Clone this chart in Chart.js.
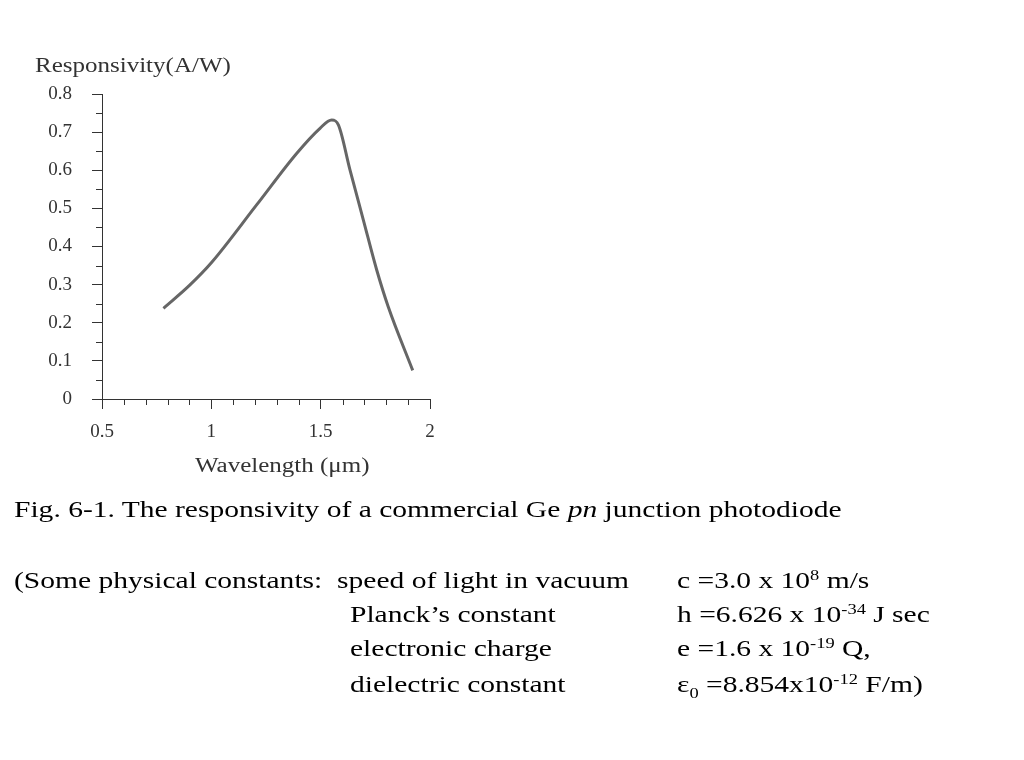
<!DOCTYPE html>
<html><head><meta charset="utf-8">
<script src="https://cdn.jsdelivr.net/npm/chart.js@4"></script>
<style>
body{margin:0;background:#fff;width:1024px;height:760px;position:relative;overflow:hidden;font-family:"Liberation Serif","Times New Roman",serif;}
.t{position:absolute;white-space:nowrap;font-size:24px;color:#000;line-height:26px;transform:scaleX(1.23);transform-origin:left center;}
.a{position:absolute;white-space:nowrap;font-size:20px;color:#333;line-height:22px;transform:scaleX(1.25);transform-origin:left center;}
sup{font-size:15px;vertical-align:top;position:relative;top:-5px;}
sub{font-size:15px;}
</style></head><body>
<canvas id="c" width="1024" height="760" style="position:absolute;left:0;top:0"></canvas>
<div class="a" style="left:35px;top:54px">Responsivity(A/W)</div>
<div class="a" style="left:195px;top:454px">Wavelength (μm)</div>
<div class="t" style="left:14px;top:496px">Fig. 6-1. The responsivity of a commercial Ge <i>pn</i> junction photodiode</div>
<div class="t" style="left:14px;top:567px">(Some physical constants:&nbsp; speed of light in vacuum</div>
<div class="t" style="left:350px;top:601px">Planck’s constant</div>
<div class="t" style="left:350px;top:635px">electronic charge</div>
<div class="t" style="left:350px;top:671px">dielectric constant</div>
<div class="t" style="left:677px;top:567px">c =3.0 x 10<sup>8</sup> m/s</div>
<div class="t" style="left:677px;top:601px">h =6.626 x 10<sup>-34</sup> J sec</div>
<div class="t" style="left:677px;top:635px">e =1.6 x 10<sup>-19</sup> Q,</div>
<div class="t" style="left:677px;top:671px">ε<sub>0</sub> =8.854x10<sup>-12</sup> F/m)</div>
<script>
const wavelength=[0.781,0.90,1.001,1.207,1.390,1.497,1.550,1.581,1.634,1.695,1.756,1.809,1.921];
const responsivity=[0.238,0.298,0.358,0.509,0.644,0.710,0.732,0.719,0.601,0.470,0.339,0.242,0.075];
const xTicks=[0.5,1,1.5,2];
const yTicks=[0,0.1,0.2,0.3,0.4,0.5,0.6,0.7,0.8];
const axisColor='#333';
const minorTicks={id:'minor',afterDraw(ch){
  const c=ch.ctx,x=ch.scales.x,y=ch.scales.y;
  c.save();c.strokeStyle=axisColor;c.lineWidth=1;c.beginPath();
  for(let i=6;i<=19;i++){if(i%5===0)continue;const px=Math.round(x.getPixelForValue(i/10))+0.5;c.moveTo(px,y.bottom);c.lineTo(px,y.bottom+6);}
  for(let i=1;i<16;i+=2){const py=Math.round(y.getPixelForValue(i/20))+0.5;c.moveTo(x.left,py);c.lineTo(x.left-6,py);}
  c.stroke();c.restore();}};
new Chart(document.getElementById('c'),{
  type:'line',
  data:{datasets:[{data:wavelength.map((w,i)=>({x:w,y:responsivity[i]})),borderColor:'#666',borderWidth:3,pointRadius:0,cubicInterpolationMode:'monotone',fill:false}]},
  options:{responsive:false,animation:false,
    layout:{padding:{left:42,right:594,top:94,bottom:321}},
    plugins:{legend:{display:false},tooltip:{enabled:false}},
    scales:{
      x:{type:'linear',min:0.5,max:2,afterFit:s=>{s.height=40;},
        afterBuildTicks:s=>{s.ticks=xTicks.map(v=>({value:v}));},
        grid:{drawOnChartArea:false,color:axisColor,tickLength:10},border:{color:axisColor},
        ticks:{color:'#333',font:{family:'Liberation Serif',size:19},padding:12,callback:v=>String(v)}},
      y:{min:0,max:0.8,afterFit:s=>{s.width=60;},
        afterBuildTicks:s=>{s.ticks=yTicks.map(v=>({value:v}));},
        grid:{drawOnChartArea:false,color:axisColor,tickLength:10},border:{color:axisColor},
        ticks:{color:'#333',font:{family:'Liberation Serif',size:19},padding:20,callback:v=>String(v)}}
    }},
  plugins:[minorTicks]
});
</script></body></html>
